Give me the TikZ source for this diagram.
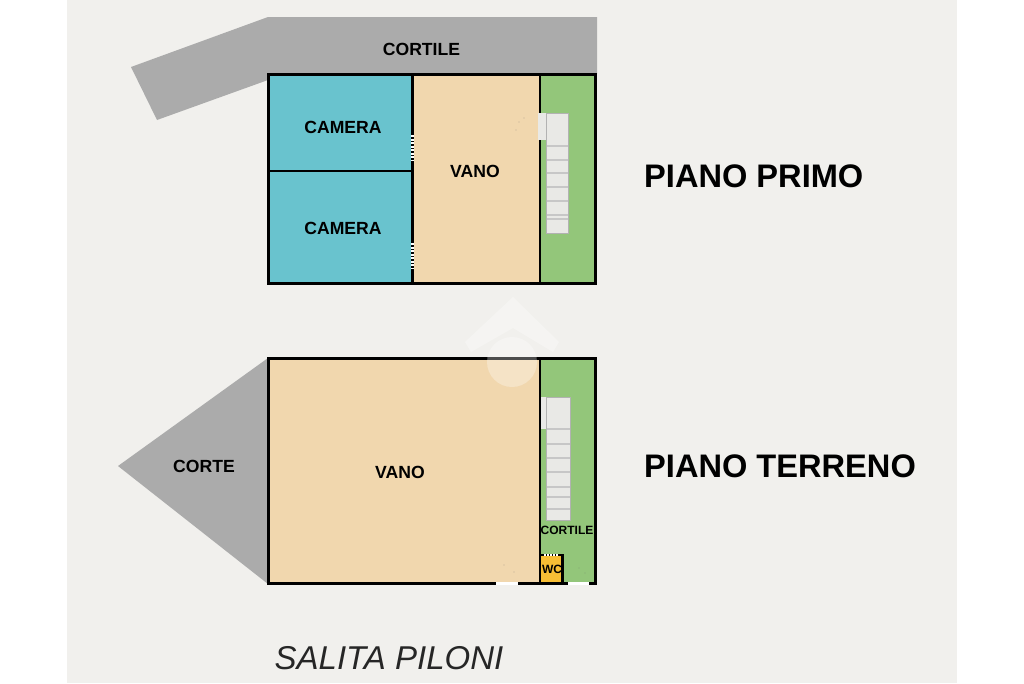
\documentclass[tikz,border=0pt]{standalone}
\usepackage{fontspec}
\setmainfont{Liberation Sans}
\definecolor{paper}{HTML}{F1F0ED}
\definecolor{vano}{HTML}{F1D7AE}
\definecolor{camera}{HTML}{69C3CE}
\definecolor{green}{HTML}{93C67A}
\definecolor{corte}{HTML}{ABABAB}
\definecolor{wc}{HTML}{F7BE35}
\definecolor{stair}{HTML}{E9E9E6}
\tikzset{
    room/.style={draw=black, line width=2.8pt, line join=miter},
    wall/.style={draw=black, line width=2.8pt},
    tag/.style={font=\fontsize{17.6}{18}\selectfont\bfseries, text=black, inner sep=0pt},
    smalltag/.style={font=\fontsize{12}{13}\selectfont\bfseries, text=black, inner sep=0pt},
    floortag/.style={font=\fontsize{32.6}{34}\selectfont\bfseries, text=black, inner sep=0pt, anchor=west},
    stairbox/.style={fill=stair, draw=black!30, line width=1pt},
    tread/.style={draw=black!22, line width=1.4pt},
    opening/.style={white, line width=3pt}
}
\begin{document}
\begin{tikzpicture}[x=1pt, y=-1pt]
    \useasboundingbox (0,0) rectangle (1024,683);
    \fill[white] (0,0) rectangle (1024,683);
    \fill[paper] (67,0) rectangle (957,683);
    % piano primo
    \fill[corte] (131,67) -- (268,17) -- (597,17) -- (597,74) -- (268,74) -- (268,80) -- (157,120) -- cycle;
    \fill[vano] (268,74) rectangle (540,284);
    \fill[camera] (268,74) rectangle (413,284);
    \fill[green] (540,74) rectangle (596,284);
    \draw[room] (268.5,74.5) rectangle (595.5,283.5);
    \draw[wall] (268,171) -- (413,171);
    \draw[wall] (412.5,74) -- (412.5,284);
    \draw[wall] (540,74) -- (540,284);
    \draw[opening, dash pattern=on 2pt off 1.5pt] (412.5,135) -- (412.5,161);
    \draw[opening, dash pattern=on 2pt off 1.5pt] (412.5,243) -- (412.5,269);
    \fill[stair] (538,113) rectangle (546,140);
    \draw[stairbox] (546,113.5) rectangle (568,233);
    \foreach \y in {146,160,173,187,201,215,219} {
        \draw[tread] (546.5,\y) -- (567.5,\y);
    }
    \fill[black!60] (519,122) circle (0.4pt) (524,118) circle (0.4pt) (516,130) circle (0.4pt);
    % piano terreno
    \fill[corte] (268,358) -- (118,466) -- (268,584) -- cycle;
    \fill[vano] (268,358) rectangle (540,584);
    \fill[green] (540,358) rectangle (596,584);
    \fill[wc] (540,555) rectangle (563,584);
    \draw[room] (268.5,358.5) rectangle (595.5,583.5);
    \draw[wall] (540,358) -- (540,584);
    \draw[wall] (540,555) -- (562.5,555) -- (562.5,584);
    \draw[opening] (496,583.5) -- (518,583.5);
    \draw[opening] (568,583.5) -- (589,583.5);
    \draw[white, line width=1.4pt, dash pattern=on 2pt off 1pt] (544,555) -- (558,555);
    \fill[stair] (541,397) rectangle (546,429);
    \draw[stairbox] (546,397) rectangle (570,520);
    \foreach \y in {429,444,458,472,487,497,509} {
        \draw[tread] (546.5,\y) -- (569.5,\y);
    }
    \fill[black!60] (504,565) circle (0.4pt) (514,572) circle (0.4pt) (579,568) circle (0.4pt) (585,573) circle (0.4pt);
    % watermark
    \fill[white, opacity=0.3] (513,297) -- (559,342) -- (553,352) -- (513,328) -- (471,352) -- (465,342) -- cycle;
    \fill[white, opacity=0.3] (512,362) circle (25);
    % labels
    \node[tag] (cortileup) at (421.5,49.5) {CORTILE};
    \node[tag] (cameraup) at (343,127.5) {CAMERA};
    \node[tag] (cameradown) at (343,228.5) {CAMERA};
    \node[tag] (vanoup) at (475,171.5) {VANO};
    \node[tag] (vanodown) at (400,472.5) {VANO};
    \node[tag] (corte) at (204,466.5) {CORTE};
    \node[smalltag] (cortiledown) at (567,530.5) {CORTILE};
    \node[smalltag] (wcroom) at (552,569.5) {WC};
    \node[floortag] (primo) at (644,176.5) {PIANO PRIMO};
    \node[floortag] (terreno) at (644,466.5) {PIANO TERRENO};
    \node[inner sep=0pt, font=\fontsize{33}{35}\selectfont\itshape, text=black!85] (street) at (389,658) {SALITA PILONI};
\end{tikzpicture}
\end{document}
